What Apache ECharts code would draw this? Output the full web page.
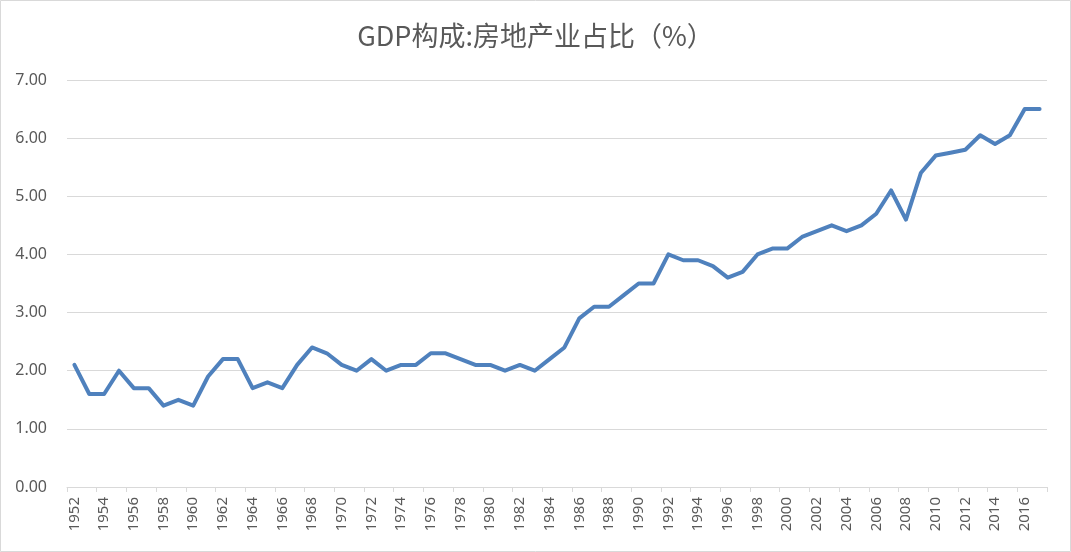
<!DOCTYPE html>
<html>
<head>
<meta charset="utf-8">
<script src="https://cdn.jsdelivr.net/npm/echarts@6/dist/echarts.min.js"></script>
<style>
html,body{margin:0;padding:0;background:#fff;}
#chart{width:1071px;height:552px;}
</style>
</head>
<body>
<div id="chart"></div>
<script>
const titleText = 'GDP构成:房地产业占比（%）';
const years = [];
for (let y = 1952; y <= 2017; y++) years.push(String(y));
const shareValues = [
  2.1, 1.6, 1.6, 2.0, 1.7, 1.7, 1.4, 1.5, 1.4, 1.9,
  2.2, 2.2, 1.7, 1.8, 1.7, 2.1, 2.4, 2.3, 2.1, 2.0,
  2.2, 2.0, 2.1, 2.1, 2.3, 2.3, 2.2, 2.1, 2.1, 2.0,
  2.1, 2.0, 2.2, 2.4, 2.9, 3.1, 3.1, 3.3, 3.5, 3.5,
  4.0, 3.9, 3.9, 3.8, 3.6, 3.7, 4.0, 4.1, 4.1, 4.3,
  4.4, 4.5, 4.4, 4.5, 4.7, 5.1, 4.6, 5.4, 5.7, 5.75,
  5.8, 6.05, 5.9, 6.05, 6.5, 6.5
];

const chart = echarts.init(document.getElementById('chart'));
chart.setOption({
  backgroundColor: '#ffffff',
  animation: false,
  title: {
    text: titleText,
    left: 'center',
    top: 17,
    textStyle: {
      fontFamily: '"Noto Sans CJK SC", "Noto Sans", sans-serif',
      fontSize: 27,
      fontWeight: 'normal',
      color: '#595959'
    }
  },
  graphic: [{
    type: 'rect',
    shape: { x: 0.5, y: 0.5, width: 1070, height: 551 },
    style: { fill: 'none', stroke: '#d9d9d9', lineWidth: 1 },
    silent: true
  }],
  grid: { left: 67, right: 24, top: 80, bottom: 65 },
  xAxis: {
    type: 'category',
    data: years,
    boundaryGap: true,
    axisLine: { lineStyle: { color: '#d9d9d9', width: 1 } },
    axisTick: { show: true, interval: 1, length: 5, lineStyle: { color: '#d9d9d9' } },
    axisLabel: {
      interval: 1,
      rotate: 90,
      margin: 10,
      color: '#595959',
      fontSize: 15,
      fontFamily: '"Noto Sans", "DejaVu Sans", sans-serif'
    },
    splitLine: { show: false }
  },
  yAxis: {
    type: 'value',
    min: 0,
    max: 7,
    interval: 1,
    axisLine: { show: false },
    axisTick: { show: false },
    axisLabel: {
      formatter: v => v.toFixed(2),
      color: '#595959',
      fontSize: 16,
      margin: 20,
      fontFamily: '"Noto Sans", "DejaVu Sans", sans-serif'
    },
    splitLine: { lineStyle: { color: '#d9d9d9', width: 1 } }
  },
  series: [{
    type: 'line',
    data: shareValues,
    showSymbol: false,
    symbol: 'none',
    lineStyle: { color: '#4f81bd', width: 4, cap: 'round', join: 'round' },
    itemStyle: { color: '#4f81bd' }
  }]
});
</script>
</body>
</html>
